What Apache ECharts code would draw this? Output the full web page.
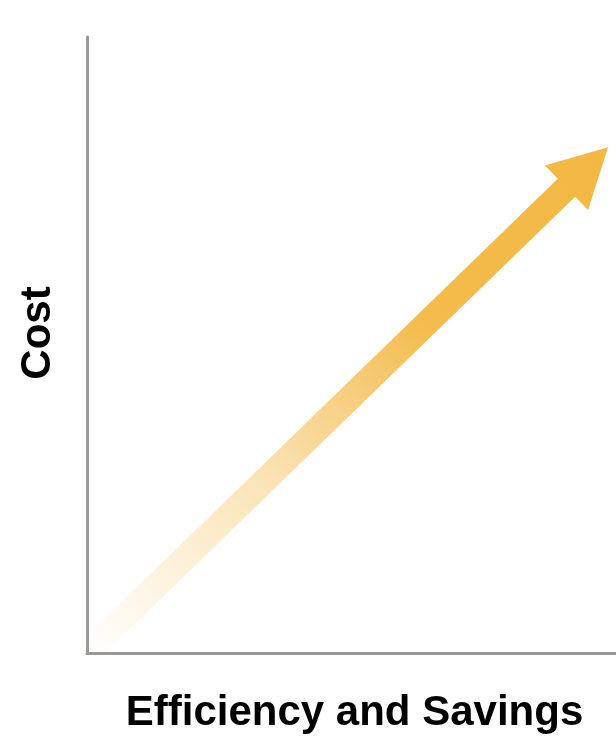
<!DOCTYPE html>
<html>
<head>
<meta charset="utf-8">
<script src="https://cdn.jsdelivr.net/npm/echarts@6/dist/echarts.min.js"></script>
<style>
  html, body {margin: 0; padding: 0; background: #fff;}
  #chart {width: 616px; height: 741px;}
</style>
</head>
<body>
<div id="chart"></div>
<script>
// axis titles
const xName = 'Efficiency and Savings'
const yName = 'Cost'

// the trend arrow, in data units: tail and tip
const arrowTail = [0, 0]
const arrowTip = [98.5, 82.1]

const arrowColor = '#f3b843'

const chart = echarts.init(document.getElementById('chart'))

const renderArrow = (params, api) => {
  const p0 = api.coord([api.value(0), api.value(1)])
  const p1 = api.coord([api.value(2), api.value(3)])
  const dx = p1[0] - p0[0], dy = p1[1] - p0[1]
  const len = Math.sqrt(dx * dx + dy * dy)
  const ux = dx / len, uy = dy / len
  const nx = -uy, ny = ux
  const shaftHalf = 12.5, headLen = 58, headHalf = 31
  const bx = p1[0] - ux * headLen, by = p1[1] - uy * headLen
  const pts = [
    [p0[0] + nx * shaftHalf, p0[1] + ny * shaftHalf],
    [bx + nx * shaftHalf, by + ny * shaftHalf],
    [bx + nx * headHalf, by + ny * headHalf],
    p1,
    [bx - nx * headHalf, by - ny * headHalf],
    [bx - nx * shaftHalf, by - ny * shaftHalf],
    [p0[0] - nx * shaftHalf, p0[1] - ny * shaftHalf]
  ]
  return {
    type: 'polygon',
    shape: {points: pts},
    style: {
      fill: new echarts.graphic.LinearGradient(p0[0], p0[1], p1[0], p1[1], [
        {offset: 0, color: 'rgba(243,184,67,0)'},
        {offset: 0.35, color: 'rgba(243,184,67,0.4)'},
        {offset: 0.65, color: 'rgba(243,184,67,0.95)'},
        {offset: 1, color: arrowColor}
      ], true)
    }
  }
}

const axisCommon = {
  type: 'value',
  min: 0,
  max: 100,
  nameLocation: 'middle',
  axisLine: {show: true, lineStyle: {color: '#999', width: 3}},
  axisTick: {show: false},
  axisLabel: {show: false},
  splitLine: {show: false}
}

chart.setOption({
  backgroundColor: '#fff',
  animation: false,
  grid: {left: 87, right: 0, top: 37, bottom: 88},
  xAxis: {
    ...axisCommon,
    name: xName,
    nameGap: 39,
    nameTextStyle: {
      fontFamily: 'Liberation Sans, Arial, sans-serif',
      fontWeight: 'bold', fontSize: 42, color: '#000',
      padding: [0, 0, 0, 6]
    }
  },
  yAxis: {
    ...axisCommon,
    name: yName,
    nameGap: 28,
    nameRotate: 90,
    nameTextStyle: {
      fontFamily: 'Liberation Sans, Arial, sans-serif',
      fontWeight: 'bold', fontSize: 42, color: '#000',
      padding: [0, 0, 0, 24]
    }
  },
  series: [{
    type: 'custom',
    renderItem: renderArrow,
    clip: false,
    data: [[arrowTail[0], arrowTail[1], arrowTip[0], arrowTip[1]]]
  }]
})
</script>
</body>
</html>
